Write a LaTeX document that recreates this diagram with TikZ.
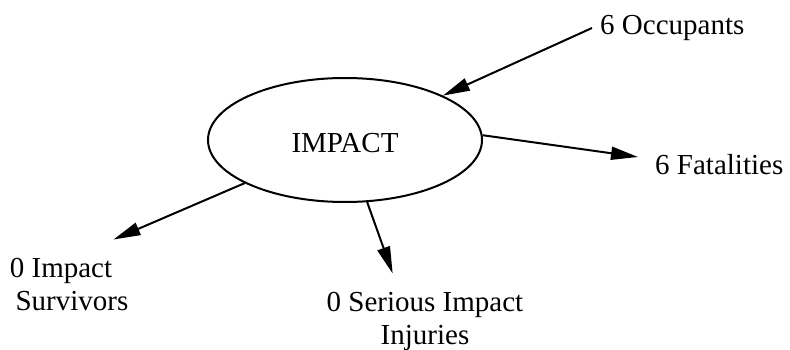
\documentclass[tikz,border=0pt]{standalone}
\usepackage{fontspec}
\setmainfont{Liberation Serif}
\usetikzlibrary{shapes.geometric,arrows.meta}
\begin{document}
\begin{tikzpicture}[x=1pt,y=-1pt,
  every node/.style={font=\fontsize{29pt}{33pt}\selectfont},
  oval/.style={ellipse,draw,line width=2pt,minimum width=274pt,minimum height=124pt,inner sep=0pt,text height=25pt,text depth=0pt},
  lbl/.style={inner sep=0pt,align=center},
  conn/.style={line width=2pt,-{Triangle[length=27pt,width=13pt]}}]
\useasboundingbox (0,0) rectangle (790,350);
\node[oval] (impact) at (345,140) {IMPACT};
\node[lbl,anchor=west,inner xsep=8pt] (occ) at (592,28) {6 Occupants};
\node[lbl,anchor=west,inner xsep=17pt] (fat) at (638,165) {6 Fatalities};
\node[lbl,inner sep=18pt] (surv) at (72,284) {0 Impact\rule{22pt}{0pt}\\Survivors};
\node[lbl,inner sep=18.5pt] (ser) at (425,321.5) {0 Serious Impact\\Injuries};
\draw[conn] (occ.west) -- (impact);
\draw[conn] (impact.2.5) -- ([yshift=8pt]fat.west);
\draw[conn] (impact) -- (surv.47.7);
\draw[conn] (impact) -- (ser.124.5);
\end{tikzpicture}
\end{document}
